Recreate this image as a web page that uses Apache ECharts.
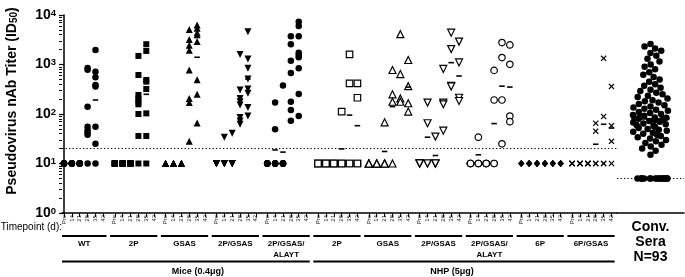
<!DOCTYPE html>
<html lang="en">
<head>
  <meta charset="UTF-8">
  <title>Pseudovirus nAb Titer</title>
  <script src="https://cdn.jsdelivr.net/npm/echarts@6.0.0/dist/echarts.min.js"></script>
  <style>
    html, body {
      margin: 0;
      padding: 0;
      background: #fff;
    }

    #main {
      width: 685px;
      height: 277px;
    }
  </style>
</head>
<body>
<div id="main"></div>
<script>
  // x axis: timepoints inside each group
  var timepoints = ['Pre', '14', '21', '28', '35', '42'];
  var groupNames = ['WT', '2P', 'GSAS', '2P/GSAS', '2P/GSAS/\nALAYT', '2P', 'GSAS', '2P/GSAS', '2P/GSAS/\nALAYT', '6P', '6P/GSAS'];
  var speciesNames = ['Mice (0.4\u03bcg)', 'NHP (5\u03bcg)'];
  var speciesGroups = [[0, 4], [5, 10]];
  var convLabel = 'Conv.\nSera\nN=93';

  // y axis
  var minorTicks = [2, 3, 4, 5, 6, 7, 8, 9, 20, 30, 40, 50, 60, 70, 80, 90,
    200, 300, 400, 500, 600, 700, 800, 900, 2000, 3000, 4000, 5000, 6000, 7000, 8000, 9000];
  var detectionLimit = 20;
  var convDetectionLimit = 5;

  // titers (ID50), one list per timepoint Pre,14,21,28,35,42
  var miceWT = [
    [10, 10, 10, 10, 10, 10, 10, 10],
    [10, 10, 10, 10, 10, 10, 10, 10],
    [10, 10, 10, 10, 10, 10, 10, 10],
    [850, 780, 140, 55, 47, 42, 38, 10],
    [1960, 710, 550, 385, 360, 55, 25, 10],
    []
  ];
  var mice2P = [
    [10, 10, 10, 10, 10, 10, 10, 10],
    [10, 10, 10, 10, 10, 10, 10, 10],
    [10, 10, 10, 10, 10, 10, 10, 10],
    [1490, 613, 242, 206, 177, 157, 100, 36, 10],
    [2570, 1880, 487, 450, 320, 103, 36, 10],
    []
  ];
  var miceGSAS = [
    [10, 10, 10, 10, 10, 10, 10, 10],
    [10, 10, 10, 10, 10, 10, 10, 10],
    [10, 10, 10, 10, 10, 10, 10, 10],
    [5100, 3200, 2450, 1950, 775, 205, 170, 28],
    [6300, 5400, 4400, 4000, 2900, 490, 250, 66],
    []
  ];
  var mice2PGSAS = [
    [10, 10, 10, 10, 10, 10, 10, 10],
    [34, 10, 10, 10, 10, 10, 10, 10],
    [41, 10, 10, 10, 10, 10, 10, 10],
    [1600, 305, 206, 177, 152, 85, 72, 62],
    [4600, 1290, 840, 510, 320, 262, 135, 91],
    []
  ];
  var mice2PGSASALAYT = [
    [10, 10, 10, 10, 10, 10, 10, 10],
    [170, 49, 10, 10, 10, 10, 10, 10],
    [375, 10, 10, 10, 10, 10, 10, 10],
    [3740, 2570, 1190, 670, 177, 120, 73],
    [7300, 6000, 3740, 1720, 1550, 1400, 840, 255, 91],
    []
  ];
  var nhp2P = [
    [10, 10, 10, 10],
    [10, 10, 10, 10],
    [10, 10, 10, 10],
    [112, 10, 10, 10],
    [1600, 415, 10, 10],
    [415, 213, 10, 10]
  ];
  var nhpGSAS = [
    [10, 10, 10, 10],
    [10, 10, 10, 10],
    [68, 10, 10, 10],
    [775, 250, 177, 10],
    [4100, 640, 206, 177],
    [1234, 365, 165, 112]
  ];
  var nhp2PGSAS = [
    [10, 10, 10, 10],
    [170, 65, 10, 10],
    [35, 10, 10, 10],
    [815, 170, 157, 46],
    [4400, 2050, 370, 360],
    [2900, 1100, 213, 183]
  ];
  var nhp2PGSASALAYT = [
    [10, 10, 10, 10],
    [34, 10, 10, 10],
    [10, 10, 10, 10],
    [760, 192, 10, 10],
    [2770, 1380, 192, 25],
    [2480, 1010, 91, 70]
  ];
  var nhp6P = [
    [10, 10, 10, 10],
    [10, 10, 10, 10],
    [10, 10, 10, 10],
    [10, 10, 10, 10],
    [10, 10, 10, 10],
    [10, 10, 10, 10]
  ];
  var nhp6PGSAS = [
    [10, 10, 10, 10],
    [10, 10, 10, 10],
    [10, 10, 10, 10],
    [65, 45, 10, 10],
    [1330, 89, 10, 10],
    [360, 58, 28, 10]
  ];

  // geometric mean marks: [group, timepoint, titer]
  var gmtMarks = [
    [0, 4, 192], [1, 4, 250], [2, 4, 1400], [3, 4, 510], [4, 1, 18.8], [4, 2, 17],
    [5, 3, 19.7], [5, 4, 95], [5, 5, 58], [6, 2, 17.5], [6, 3, 141], [6, 5, 350],
    [7, 1, 34], [7, 2, 14.5], [7, 4, 1090], [7, 5, 585], [8, 1, 15], [8, 3, 64],
    [8, 4, 365], [8, 5, 350], [10, 3, 24.5], [10, 4, 62], [10, 5, 52]
  ];

  // convalescent sera, N=93
  var convSera = [2600, 2300, 2100, 1900, 1700, 1500, 1300, 1150, 1000, 900, 800, 700, 620, 560, 500,
    450, 400, 370, 340, 310, 290, 270, 250, 235, 220, 205, 190, 180, 170, 160, 150, 142, 135, 128,
    122, 116, 110, 105, 100, 96, 92, 88, 85, 84, 82, 80,
    78, 75, 72, 70, 67, 64, 62, 60, 57, 55, 52, 50, 48, 46, 44, 42, 40, 38, 36, 34, 32, 30, 28, 26,
    24, 22, 20, 18, 15,
    5, 5, 5, 5, 5, 5, 5, 5, 5, 5, 5, 5, 5, 5, 5, 5, 5, 5];
  var convMedian = 80;

  var allGroups = [miceWT, mice2P, miceGSAS, mice2PGSAS, mice2PGSASALAYT,
    nhp2P, nhpGSAS, nhp2PGSAS, nhp2PGSASALAYT, nhp6P, nhp6PGSAS];

  var FONT = 'Arial, "Liberation Sans", Helvetica, sans-serif';
  var X_PATH = 'path://M0,1.4L1.4,0L5,3.6L8.6,0L10,1.4L6.4,5L10,8.6L8.6,10L5,6.4L1.4,10L0,8.6L3.6,5Z';
  var markers = [
    {symbol: 'circle', size: 6.5, fill: true},
    {symbol: 'rect', size: 6, fill: true},
    {symbol: 'triangle', size: 7, fill: true},
    {symbol: 'triangle', size: 7, fill: true, rotate: 180},
    {symbol: 'circle', size: 6.5, fill: true},
    {symbol: 'rect', size: 6.5, fill: false},
    {symbol: 'triangle', size: 7, fill: false},
    {symbol: 'triangle', size: 7, fill: false, rotate: 180},
    {symbol: 'circle', size: 6.5, fill: false},
    {symbol: 'diamond', size: [6, 7], fill: true},
    {symbol: X_PATH, size: 6, fill: true}
  ];

  var step = 6.45;  // one group = 6 timepoints + gap

  function xOf(g, t) {
    return g * step + t;
  }

  var tickValues = [];
  var tickNames = {};
  allGroups.forEach(function (cols, g) {
    timepoints.forEach(function (tp, t) {
      tickValues.push(xOf(g, t));
      tickNames[xOf(g, t).toFixed(2)] = tp;
    });
  });

  var dotted = {
    silent: true,
    symbol: 'none',
    label: {show: false},
    lineStyle: {color: '#000', type: [1.3, 2.2], width: 1.2}
  };

  var series = allGroups.map(function (cols, g) {
    var data = [];
    cols.forEach(function (vals, t) {
      vals.forEach(function (v) {
        data.push([xOf(g, t), v]);
      });
    });
    var m = markers[g];
    var s = {
      type: 'scatter',
      xAxisIndex: 0,
      yAxisIndex: 0,
      data: data,
      symbol: m.symbol,
      symbolSize: m.size,
      symbolRotate: m.rotate || 0,
      silent: true,
      itemStyle: m.fill ? {color: '#000', opacity: 1} : {color: '#fff', borderColor: '#000', borderWidth: 1.2, opacity: 1}
    };
    if (g === 0) {
      s.markLine = Object.assign({data: [{yAxis: detectionLimit}]}, dotted);
    }
    return s;
  });

  series.push({
    type: 'scatter',
    xAxisIndex: 0,
    yAxisIndex: 0,
    z: 4,
    silent: true,
    symbol: 'rect',
    symbolSize: [5.5, 1.6],
    itemStyle: {color: '#000', opacity: 1},
    data: gmtMarks.map(function (d) {
      return [xOf(d[0], d[1]), d[2]];
    })
  });

  series.push({
    type: 'scatter',
    xAxisIndex: 1,
    yAxisIndex: 2,
    silent: true,
    symbolSize: 6.5,
    itemStyle: {color: '#000', opacity: 1},
    data: convSera.map(function (v) {
      return [0, v];
    }),
    markLine: Object.assign({data: [{yAxis: convDetectionLimit}]}, dotted)
  });

  series.push({
    type: 'line',
    xAxisIndex: 1,
    yAxisIndex: 2,
    z: 5,
    silent: true,
    showSymbol: true,
    symbol: 'rect',
    symbolSize: [38, 1.8],
    lineStyle: {width: 0},
    itemStyle: {color: '#000'},
    data: [[0, convMedian]]
  });

  var logAxisBase = {
    type: 'log',
    logBase: 10,
    min: 1,
    max: 10000,
    position: 'left',
    splitLine: {show: false}
  };

  var chart = echarts.init(document.getElementById('main'));
  chart.setOption({
    animation: false,
    textStyle: {fontFamily: FONT},
    grid: [
      {left: 62, right: 68, top: 15, bottom: 64},
      {left: 617, right: 1, top: 15, bottom: 64}
    ],
    xAxis: [
      {
        type: 'value',
        gridIndex: 0,
        min: -0.25,
        max: 70.2,
        splitLine: {show: false},
        axisLine: {lineStyle: {color: '#000', width: 1.5}},
        axisTick: {customValues: tickValues, length: 4, lineStyle: {color: '#000', width: 1}},
        axisLabel: {
          customValues: tickValues,
          rotate: 90,
          fontSize: 6,
          color: '#222',
          margin: 2,
          formatter: function (v) {
            return tickNames[Number(v).toFixed(2)] || '';
          }
        }
      },
      {
        type: 'category',
        gridIndex: 1,
        data: [convLabel],
        jitter: 36,
        jitterOverlap: false,
        jitterMargin: 0,
        axisLine: {lineStyle: {color: '#000', width: 1.5}},
        axisTick: {alignWithLabel: true, length: 4, lineStyle: {color: '#000'}},
        axisLabel: {fontSize: 14, fontWeight: 'bold', color: '#000', lineHeight: 15, margin: 7}
      }
    ],
    yAxis: [
      Object.assign({}, logAxisBase, {
        gridIndex: 0,
        axisLine: {show: true, lineStyle: {color: '#000', width: 1.5}},
        axisTick: {length: 5, lineStyle: {color: '#000', width: 1.2}},
        axisLabel: {
          margin: 6,
          formatter: function (v) {
            return '{b|10}{s|' + Math.round(Math.log10(v)) + '}';
          },
          rich: {
            b: {fontSize: 14, fontWeight: 'bold', color: '#000', fontFamily: FONT},
            s: {fontSize: 9.5, fontWeight: 'bold', color: '#000', fontFamily: FONT, verticalAlign: 'top'}
          }
        }
      }),
      Object.assign({}, logAxisBase, {
        gridIndex: 0,
        axisLine: {show: false},
        axisLabel: {show: false},
        axisTick: {customValues: minorTicks, length: 3, lineStyle: {color: '#000', width: 1}}
      }),
      Object.assign({}, logAxisBase, {
        gridIndex: 1,
        show: false
      })
    ],
    series: series
  });

  // group and species labels under the axis
  function px(v) {
    return chart.convertToPixel({xAxisIndex: 0}, v);
  }

  var els = [];
  els.push({
    type: 'text',
    x: 12,
    y: 101,
    rotation: Math.PI / 2,
    style: {
      text: '{a|Pseudovirus nAb Titer (ID}{s|50}{a|)}',
      align: 'center',
      verticalAlign: 'middle',
      rich: {
        a: {fontSize: 14, fontWeight: 'bold', fill: '#000', fontFamily: FONT},
        s: {fontSize: 10, fontWeight: 'bold', fill: '#000', fontFamily: FONT, verticalAlign: 'bottom'}
      }
    }
  });
  els.push({
    type: 'text',
    x: 62,
    y: 227,
    style: {text: 'Timepoint (d):', fontSize: 10, fontFamily: FONT, fill: '#000', align: 'right', verticalAlign: 'middle'}
  });
  groupNames.forEach(function (name, g) {
    var x1 = Math.max(62, px(xOf(g, 0) - 0.6));
    var x2 = px(xOf(g, 5) + 0.4);
    els.push({type: 'line', shape: {x1: x1, y1: 236, x2: x2, y2: 236}, style: {stroke: '#000', lineWidth: 2}});
    els.push({
      type: 'text',
      x: (x1 + x2) / 2,
      y: 238,
      style: {
        text: name, fontSize: 8, fontWeight: 'bold', fontFamily: FONT, fill: '#000',
        align: 'center', verticalAlign: 'top', lineHeight: 11
      }
    });
  });
  speciesNames.forEach(function (name, i) {
    var x1 = Math.max(62, px(xOf(speciesGroups[i][0], 0) - 0.6));
    var x2 = px(xOf(speciesGroups[i][1], 5) + 0.4);
    els.push({type: 'line', shape: {x1: x1, y1: 261.5, x2: x2, y2: 261.5}, style: {stroke: '#000', lineWidth: 2}});
    els.push({
      type: 'text',
      x: (x1 + x2) / 2 + (i === 0 ? 12 : -12),
      y: 272,
      style: {text: name, fontSize: 9, fontWeight: 'bold', fontFamily: FONT, fill: '#000', align: 'center', verticalAlign: 'middle'}
    });
  });
  chart.setOption({graphic: els});
</script>
</body>
</html>
